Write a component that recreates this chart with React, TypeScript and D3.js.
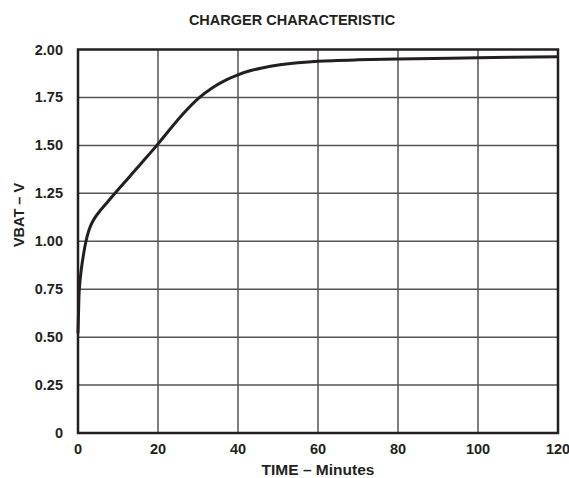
import React from "react";
import * as d3 from "d3";

const timeMin = [0, 0.15, 0.33, 0.8, 1.33, 2, 2.6, 3.25, 4.2, 5.3, 7.4, 9.25, 12, 14.5, 16.3, 19.7, 23, 26.3, 30.1, 33.8, 37.2, 40, 43, 46, 50.5, 55, 60, 70, 80, 100, 120];
const vbat = [0.52, 0.64, 0.75, 0.85, 0.925, 1.0, 1.048, 1.085, 1.122, 1.153, 1.205, 1.25, 1.316, 1.375, 1.418, 1.5, 1.584, 1.665, 1.745, 1.803, 1.843, 1.868, 1.889, 1.904, 1.92, 1.931, 1.939, 1.946, 1.95, 1.957, 1.962];
const xTicks = [0, 20, 40, 60, 80, 100, 120];
const yTicks = [0, 0.25, 0.5, 0.75, 1.0, 1.25, 1.5, 1.75, 2.0];
const yTickLabels = ["0", "0.25", "0.50", "0.75", "1.00", "1.25", "1.50", "1.75", "2.00"];

export default function App() {
  const W = 569, H = 478;
  const left = 78, right = 558, top = 49.5, bottom = 433;
  const x = d3.scaleLinear().domain([0, 120]).range([left, right]);
  const y = d3.scaleLinear().domain([0, 2]).range([bottom, top]);
  const pts = timeMin.map((t, i) => [t, vbat[i]] as [number, number]);
  const line = d3.line<[number, number]>().x(d => x(d[0])).y(d => y(d[1])).curve(d3.curveCatmullRom.alpha(0.5));
  const font = "'Liberation Sans', Arial, Helvetica, sans-serif";
  const ink = "#231f20";
  return (
    <svg width={W} height={H} style={{ position: "absolute", left: 0, top: 0, background: "#fff" }} fontFamily={font} fontWeight="bold">
      <rect x={0} y={0} width={W} height={H} fill="#fff" />
      <text x={292} y={25} textAnchor="middle" fontSize={14.5} fill={ink}>CHARGER CHARACTERISTIC</text>
      {xTicks.slice(1, -1).map(t => (
        <line key={"vx" + t} x1={x(t)} x2={x(t)} y1={top} y2={bottom} stroke="#555" strokeWidth={1.5} />
      ))}
      {yTicks.slice(1, -1).map(t => (
        <line key={"hy" + t} x1={left} x2={right} y1={y(t)} y2={y(t)} stroke="#555" strokeWidth={1.5} />
      ))}
      <path d={line(pts) || ""} fill="none" stroke={ink} strokeWidth={3} strokeLinejoin="round" />
      <rect x={left} y={top} width={right - left} height={bottom - top} fill="none" stroke={ink} strokeWidth={2.5} />
      {xTicks.map(t => (
        <text key={"xt" + t} x={x(t)} y={454} textAnchor="middle" fontSize={14.5} fill={ink}>{t}</text>
      ))}
      {yTicks.map((t, i) => (
        <text key={"yt" + t} x={63} y={y(t) + 5} textAnchor="end" fontSize={14.5} fill={ink}>{yTickLabels[i]}</text>
      ))}
      <text x={(left + right) / 2} y={475} textAnchor="middle" fontSize={15.5} fill={ink}>TIME – Minutes</text>
      <text transform={`translate(24,215) rotate(-90)`} textAnchor="middle" fontSize={14.5} fill={ink}>VBAT – V</text>
    </svg>
  );
}
